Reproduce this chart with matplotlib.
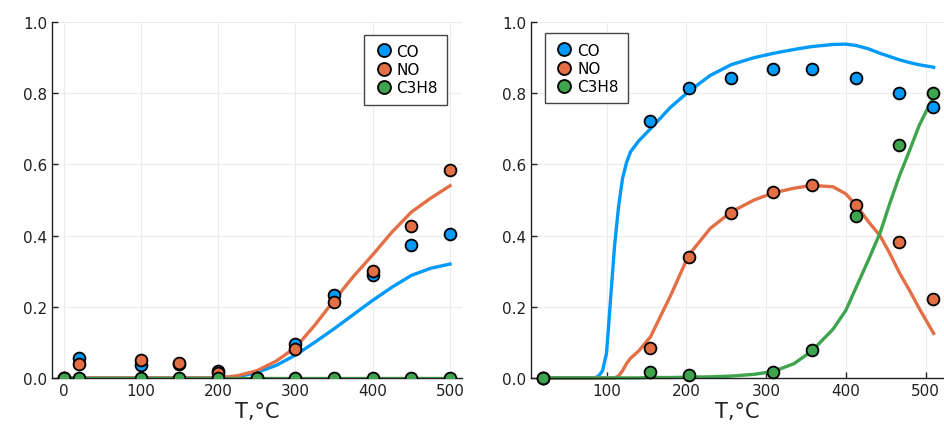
import numpy as np
import matplotlib
matplotlib.use("Agg")
import matplotlib.pyplot as plt

# left panel: measured points
T_pts_a = [0, 20, 100, 150, 200, 250, 300, 350, 400, 450, 500]
co_pts_a = [0, 0.055, 0.037, 0.04, 0.02, 0, 0.095, 0.233, 0.29, 0.374, 0.404]
no_pts_a = [0, 0.039, 0.051, 0.041, 0.015, 0, 0.080, 0.214, 0.30, 0.428, 0.584]
c3h8_pts_a = [0, 0, 0, 0, 0, 0, 0, 0, 0, 0, 0]

# left panel: model curves
T_fit_a = [0, 200, 225, 250, 275, 300, 325, 350, 375, 400, 425, 450, 475, 500]
co_fit_a = [0, 0, 0.003, 0.015, 0.035, 0.064, 0.1, 0.138, 0.178, 0.218, 0.255, 0.288, 0.308, 0.32]
no_fit_a = [0, 0, 0.006, 0.02, 0.047, 0.085, 0.148, 0.218, 0.285, 0.346, 0.41, 0.466, 0.505, 0.54]
c3h8_fit_a = [0, 0, 0, 0, 0, 0, 0, 0, 0, 0, 0, 0, 0, 0]

# right panel: measured points
T_pts_b = [20, 155, 203, 256, 309, 357, 413, 466, 509]
co_pts_b = [0, 0.721, 0.814, 0.842, 0.868, 0.868, 0.842, 0.80, 0.761]
no_pts_b = [0, 0.083, 0.341, 0.464, 0.523, 0.543, 0.485, 0.382, 0.223]
c3h8_pts_b = [0, 0.016, 0.009, np.nan, 0.016, 0.078, 0.455, 0.655, 0.80]

# right panel: model curves
T_fit_b = [20, 85, 90, 95, 100, 105, 110, 115, 120, 125, 130, 140, 155, 180, 203, 230,
           256, 285, 309, 335, 357, 384, 400, 413, 428, 443, 455, 467, 480, 492, 510]
co_fit_b = [0, 0, 0.005, 0.02, 0.07, 0.22, 0.37, 0.48, 0.56, 0.605, 0.635, 0.665, 0.70, 0.76,
            0.805, 0.85, 0.88, 0.9, 0.912, 0.923, 0.931, 0.937, 0.938, 0.934, 0.925, 0.912,
            0.903, 0.894, 0.886, 0.88, 0.873]
no_fit_b = [0, 0, 0, 0, 0, 0, 0, 0.005, 0.02, 0.04, 0.055, 0.075, 0.115, 0.23, 0.345, 0.42,
            0.466, 0.5, 0.52, 0.533, 0.541, 0.537, 0.517, 0.485, 0.44, 0.399, 0.35, 0.296,
            0.245, 0.195, 0.125]
c3h8_fit_b = [0, 0, 0, 0, 0, 0, 0, 0, 0, 0, 0, 0, 0.001, 0.001, 0.002, 0.003, 0.005, 0.01,
              0.018, 0.04, 0.075, 0.137, 0.19, 0.255, 0.33, 0.408, 0.49, 0.567, 0.64, 0.71, 0.791]

names = ["CO", "NO", "C3H8"]
colors = ["#009AFA", "#E36F47", "#3EA44E"]

plt.rcParams["font.family"] = "DejaVu Sans"
plt.rcParams["xtick.direction"] = "in"
plt.rcParams["ytick.direction"] = "in"

fig = plt.figure(figsize=(9.44, 4.35), dpi=100)
ax1 = fig.add_axes([0.055, 0.129, 0.434, 0.818])
ax2 = fig.add_axes([0.5625, 0.129, 0.4375, 0.818])


def draw(ax, T_fit, fits, T_pts, pts, xlim, xticks, clip, legend_loc, bbox):
    for y, c in zip(fits, colors):
        ax.plot(T_fit, y, color=c, lw=2.4, zorder=2, clip_on=clip)
    handles = []
    for y, c, n in zip(pts, colors, names):
        h, = ax.plot(T_pts, y, "o", color=c, mec="black", mew=1.3, ms=8.5,
                     zorder=3, clip_on=clip, label=n)
        handles.append(h)
    ax.set_xlim(*xlim)
    ax.set_ylim(0, 1)
    ax.set_xticks(xticks)
    ax.set_yticks([0, 0.2, 0.4, 0.6, 0.8, 1.0])
    ax.set_yticklabels(["0.0", "0.2", "0.4", "0.6", "0.8", "1.0"])
    ax.grid(True, color="#ececec", lw=0.8)
    ax.set_axisbelow(True)
    for s in ["top", "right"]:
        ax.spines[s].set_visible(False)
    for s in ["left", "bottom"]:
        ax.spines[s].set_color("#222222")
        ax.spines[s].set_linewidth(1.0)
    ax.tick_params(labelsize=11, colors="#222222", length=4, width=1.0)
    ax.set_xlabel("T,°C", fontsize=15, color="#222222", labelpad=2)
    leg = ax.legend(handles=handles, loc=legend_loc, bbox_to_anchor=bbox, fontsize=11,
                    fancybox=False, framealpha=1, edgecolor="#444444",
                    handletextpad=0.15, handlelength=1.4, borderpad=0.6,
                    labelspacing=0.22, borderaxespad=0, markerscale=1.1)
    leg.get_frame().set_linewidth(1.0)


draw(ax1, T_fit_a, [co_fit_a, no_fit_a, c3h8_fit_a], T_pts_a,
     [co_pts_a, no_pts_a, c3h8_pts_a], (-15, 515), [0, 100, 200, 300, 400, 500],
     True, "upper right", (0.965, 0.965))
draw(ax2, T_fit_b, [co_fit_b, no_fit_b, c3h8_fit_b], T_pts_b,
     [co_pts_b, no_pts_b, c3h8_pts_b], (5.3, 523), [100, 200, 300, 400, 500],
     False, "upper left", (0.033, 0.968))

fig.savefig("out.png", dpi=100)
